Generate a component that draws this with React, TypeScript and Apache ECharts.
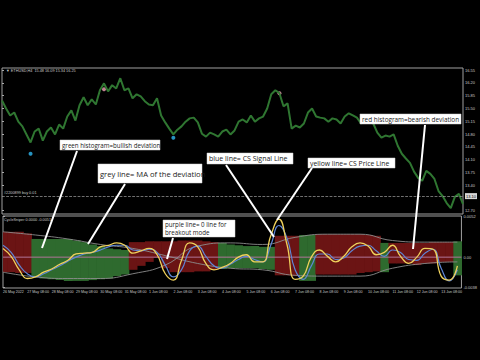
import { useEffect, useRef } from "react";
import * as echarts from "echarts";

const dateLabels = [
  "26 May 2022", "27 May 08:00", "28 May 08:00", "29 May 08:00", "30 May 08:00",
  "31 May 08:00", "1 Jun 08:00", "2 Jun 08:00", "3 Jun 08:00", "4 Jun 08:00",
  "5 Jun 08:00", "6 Jun 08:00", "7 Jun 08:00", "8 Jun 08:00", "9 Jun 08:00",
  "10 Jun 08:00", "11 Jun 08:00", "12 Jun 08:00", "13 Jun 08:00",
];

const priceValues = [
  15.72, 15.50, 15.31, 15.39, 15.14, 15.01, 14.79, 14.57, 14.87, 14.95,
  14.62, 14.87, 14.98, 14.79, 15.06, 14.95, 15.28, 15.45, 15.17, 15.59,
  15.81, 15.59, 15.75, 15.61, 16.00, 16.19, 15.97, 16.14, 16.05, 16.33,
  16.00, 16.05, 15.78, 15.89, 15.83, 15.70, 15.61, 15.59, 15.78, 15.31,
  15.12, 14.95, 14.79, 14.92, 15.01, 15.14, 15.23, 15.25, 15.12, 14.81,
  14.73, 14.84, 14.79, 14.73, 14.87, 14.92, 14.79, 14.90, 15.14, 15.20,
  15.12, 15.31, 15.14, 15.23, 15.28, 15.50, 15.89, 16.00, 15.92, 15.56,
  15.64, 14.95, 15.03, 14.98, 15.09, 15.39, 15.50, 15.28, 15.25, 15.23,
  15.14, 15.23, 15.20, 15.09, 15.28, 15.37, 15.31, 15.25, 15.09, 15.17,
  15.14, 15.09, 14.84, 14.70, 14.76, 14.73, 14.79, 14.48, 14.26, 14.13,
  14.01, 13.77, 13.60, 13.52, 13.79, 13.71, 13.57, 13.24, 13.10, 12.91,
  12.77, 13.08, 13.16, 12.88,
];

const priceTicks = [16.55, 16.2, 15.85, 15.5, 15.15, 14.8, 14.45, 14.1, 13.75, 13.4, 12.7];
const currentPrice = 13.1;
const buySignals = [[7, 14.26], [42, 14.7]];
const sellSignals = [[25, 16.03], [68, 15.92]];

// oscillator values in units of 0.0001
const oscIdx = [
  0, 2, 4, 6, 8, 10, 12, 14, 16, 18, 20, 22, 24, 26, 28, 30, 32, 34, 36, 38,
  40, 42, 44, 46, 48, 50, 52, 54, 56, 58, 60, 62, 64, 66, 68, 70, 72, 74, 76, 78,
  80, 82, 84, 86, 88, 90, 92, 94, 96, 98, 100, 102, 104, 106, 108, 110, 112,
];
const csPrice = [
  11, 1, -16, -27, -25, -19, -15, -9, -4, 4, 5, 6, 13, 15, 18, 15, 5, 8, 11, 3,
  -21, -29, -4, 18, 13, -8, -16, -13, -8, 0, 3, -6, -6, 27, 48, 16, -28, -24, 0, 9,
  1, -6, 1, 13, 18, 14, 3, 6, 15, 1, -8, 0, 11, 10, -24, -29, -11,
];
const csSignal = [
  15, 6, -10, -21, -25, -21, -16, -11, -5, 0, 4, 6, 9, 13, 15, 15, 9, 8, 10, 6,
  -10, -25, -16, 8, 14, 1, -11, -14, -9, -3, 1, -3, -6, 15, 40, 24, -16, -28, -11, 4,
  4, -3, -1, 8, 14, 15, 8, 1, 9, 6, -3, -4, 5, 10, -14, -30, -16,
];
const histUpper = [
  32, 32, 32, 30, 23, 23, 23, 23, 23, 21, 19, 16, 14, 11, 10, 9, 19, 19, 20, 20,
  20, 20, 21, 21, 21, 20, 19, 18, 16, 15, 14, 14, 13, 13, 27, 27, 27, 28, 28, 29,
  29, 29, 29, 29, 29, 28, 27, 18, 18, 18, 18, 18, 18, 19, 19, 19, 20,
];
const histLower = [
  -19, -19, -20, -20, -24, -27, -28, -29, -30, -30, -30, -29, -28, -27, -24, -22, -16, -11, -6, -1,
  -14, -19, -19, -19, -18, -18, -16, -15, -14, -14, -14, -14, -15, -16, -23, -23, -24, -30, -30, -22,
  -22, -22, -22, -22, -20, -19, -18, -19, -8, -8, -8, -10, -8, -8, -6, -6, -23,
];
const bullishRanges = [[8, 30], [54, 66], [74, 76], [94, 94], [112, 112]];

const maIdx = [0, 8, 16, 24, 32, 40, 48, 56, 64, 72, 80, 88, 96, 104, 112];
const maUpper = [32, 28, 23, 16, 11, 2, -8, -14, -16, -23, -24, -24, -14, -8, -6];
const maLower = [-19, -25, -27, -27, -21, -10, 14, 18, 16, 25, 29, 29, 21, 19, 19];
const oscTicks = [52, 0, -38];

const RED = "#6b1414";
const GREEN = "#2e6a2e";
const FONT = "Open Sans";

function box(x: number, y: number, w: number, h: number, text: string, fontSize: number, lineHeight?: number) {
  return [
    { type: "rect", z: 100, shape: { x, y, width: w, height: h }, style: { fill: "#ffffff", stroke: "#d0d0d0", lineWidth: 0.5 } },
    {
      type: "text", z: 101, x: x + 2, y: y + h / 2,
      style: { text, fill: "#1a1a1a", fontSize, fontFamily: FONT, verticalAlign: "middle", align: "left", lineHeight: lineHeight ?? fontSize + 1 },
    },
  ];
}
function pointer(x1: number, y1: number, x2: number, y2: number) {
  return { type: "line", z: 102, shape: { x1, y1, x2, y2 }, style: { stroke: "#ffffff", lineWidth: 2 } };
}

export default function App() {
  const ref = useRef<HTMLDivElement>(null);
  useEffect(() => {
    document.body.style.margin = "0";
    document.body.style.background = "#000";
    if (!ref.current) return;
    const chart = echarts.init(ref.current, undefined, { renderer: "svg" });
    const isBull = (i: number) => bullishRanges.some(([a, b]) => i >= a && i <= b);
    const histData = oscIdx.map((i, k) => [i, histUpper[k], histLower[k], isBull(i) ? 1 : 0]);
    const option: any = {
      animation: false,
      backgroundColor: "#000",
      grid: [
        { left: 2, top: 68, width: 461, height: 146, show: true, borderColor: "#a0a0a0", borderWidth: 1, backgroundColor: "#000" },
        { left: 2, top: 216, width: 461, height: 72, show: true, borderColor: "#a0a0a0", borderWidth: 1, backgroundColor: "#000" },
      ],
      xAxis: [
        { type: "value", gridIndex: 0, min: 0, max: 113, show: false },
        {
          type: "value", gridIndex: 1, min: 0, max: 113, interval: 6,
          axisLine: { show: false }, splitLine: { show: false },
          axisTick: { show: true, length: 2, lineStyle: { color: "#aaaaaa" } },
          axisLabel: {
            fontSize: 3.6, color: "#c8c8c8", align: "left", margin: 2, fontFamily: "Liberation Sans",
            showMaxLabel: false,
            formatter: (v: number) => dateLabels[Math.round(v / 6)] ?? "",
          },
        },
      ],
      yAxis: [
        {
          type: "value", gridIndex: 0, position: "right", min: 12.61, max: 16.61,
          splitLine: { show: false }, axisLine: { show: false },
          axisTick: { show: true, length: 2, customValues: priceTicks, lineStyle: { color: "#aaaaaa" } },
          axisLabel: { customValues: priceTicks, fontSize: 4, color: "#c8c8c8", margin: 2, fontFamily: "Liberation Sans", formatter: (v: number) => v.toFixed(2) },
        },
        {
          type: "value", gridIndex: 1, position: "right", min: -39, max: 52,
          splitLine: { show: false }, axisLine: { show: false },
          axisTick: { show: true, length: 2, customValues: oscTicks, lineStyle: { color: "#aaaaaa" } },
          axisLabel: {
            customValues: oscTicks, fontSize: 4, color: "#c8c8c8", margin: 2, fontFamily: "Liberation Sans",
            formatter: (v: number) => (v === 0 ? "0.00" : (v / 10000).toFixed(4)),
          },
        },
      ],
      series: [
        {
          type: "line", xAxisIndex: 0, yAxisIndex: 0, showSymbol: false,
          data: priceValues.map((p, i) => [i, p]),
          lineStyle: { color: "#2f7631", width: 2 },
          markLine: {
            symbol: "none", silent: true,
            data: [{ yAxis: currentPrice }],
            lineStyle: { type: "dashed", color: "#a0a0a0", width: 0.7 },
            label: { position: "end", formatter: currentPrice.toFixed(2), backgroundColor: "#d8d8d8", color: "#000", fontSize: 4, padding: [1, 1], distance: 2 },
          },
        },
        { type: "scatter", xAxisIndex: 0, yAxisIndex: 0, data: buySignals, symbolSize: 4, itemStyle: { color: "#2fb8f0" } },
        { type: "scatter", xAxisIndex: 0, yAxisIndex: 0, data: sellSignals, symbolSize: 4, itemStyle: { color: "#f0a0b8" } },
        {
          type: "custom", xAxisIndex: 1, yAxisIndex: 1, clip: true, data: histData,
          encode: { x: 0, y: [1, 2] },
          renderItem: (_p: any, api: any) => {
            const i = api.value(0);
            const a = api.coord([i - 1, api.value(1)]);
            const b = api.coord([i + 1, api.value(2)]);
            return {
              type: "rect",
              shape: { x: a[0], y: a[1], width: b[0] - a[0] + 0.6, height: b[1] - a[1] },
              style: { fill: api.value(3) ? GREEN : RED },
            };
          },
        },
        { type: "line", xAxisIndex: 1, yAxisIndex: 1, showSymbol: false, data: [[0, 0], [113, 0]], lineStyle: { color: "#b07498", width: 1 } },
        { type: "line", xAxisIndex: 1, yAxisIndex: 1, showSymbol: false, smooth: true, data: maIdx.map((i, k) => [i, maUpper[k]]), lineStyle: { color: "#8c8c8c", width: 0.9 } },
        { type: "line", xAxisIndex: 1, yAxisIndex: 1, showSymbol: false, smooth: true, data: maIdx.map((i, k) => [i, maLower[k]]), lineStyle: { color: "#8c8c8c", width: 0.9 } },
        { type: "line", xAxisIndex: 1, yAxisIndex: 1, showSymbol: false, smooth: true, data: oscIdx.map((i, k) => [i, csSignal[k]]), lineStyle: { color: "#5f86d6", width: 1.2 } },
        { type: "line", xAxisIndex: 1, yAxisIndex: 1, showSymbol: false, smooth: true, data: oscIdx.map((i, k) => [i, csPrice[k]]), lineStyle: { color: "#efd15c", width: 1.3 } },
      ],
      graphic: [
        { type: "text", x: 6, y: 71, style: { text: "▼ ETHUSD,H4  15.48 16.09 15.34 16.25", fill: "#c8c8c8", fontSize: 3.8, fontFamily: "Liberation Sans", verticalAlign: "middle" } },
        { type: "text", x: 4, y: 193, style: { text: "#2200899 buy 0.01", fill: "#c8c8c8", fontSize: 3.8, fontFamily: "Liberation Sans", verticalAlign: "middle" } },
        { type: "text", x: 4, y: 220, style: { text: "CycleSniper 0.0000 -0.0051", fill: "#c8c8c8", fontSize: 3.8, fontFamily: "Liberation Sans", verticalAlign: "middle" } },
        pointer(77, 151, 42, 248),
        pointer(125, 184, 88, 244),
        pointer(226, 165, 274, 237),
        pointer(312, 168, 277, 220),
        pointer(425, 125, 413, 249),
        pointer(173, 238, 167, 259),
        ...box(60, 140, 100, 10, "green histogram=bullish deviation", 6.2),
        ...box(98, 164, 104, 19, "grey line= MA of the deviation", 7.6),
        ...box(207, 153, 86, 11, "blue line= CS Signal Line", 7),
        ...box(308, 158, 87, 10, "yellow line= CS Price Line", 6.8),
        ...box(360, 114, 101, 10, "red histogram=bearish deviation", 6.4),
        ...box(163, 220, 72, 17, "purple line= 0 line for\nbreakout mode", 6.2, 7.8),
      ],
    };
    chart.setOption(option);
    return () => chart.dispose();
  }, []);
  return <div ref={ref} style={{ width: 480, height: 360, background: "#000" }} />;
}
